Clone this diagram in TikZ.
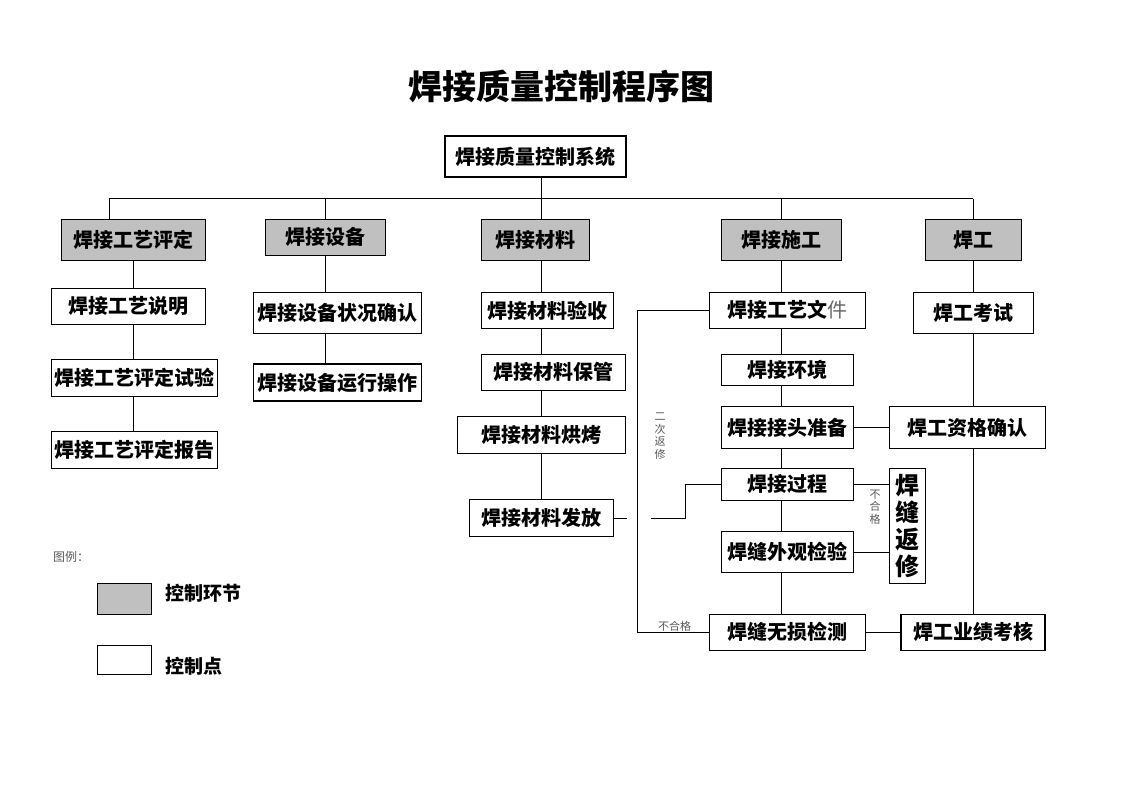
\documentclass[tikz,border=0pt]{standalone}
\usepackage{fontspec}
\setmainfont{Noto Sans CJK SC}
\definecolor{ctrlgray}{RGB}{192,192,192}
\newcommand\boxfont{\fontsize{20}{24}\selectfont\bfseries}
\newcommand\notefont{\fontsize{11}{12.5}\selectfont}
\begin{document}
\begin{tikzpicture}
[x=1pt,y=-1pt,
  lineDecorate/.style={-,line width=1pt},
  linkDecorate/.style={shape=rectangle,inner sep=0pt,draw,line width=1.2pt,fill=ctrlgray,font=\boxfont},
  pointDecorate/.style={shape=rectangle,inner sep=0pt,draw,line width=1.2pt,fill=white,font=\boxfont},
  noteDecorate/.style={inner sep=0pt,text=black!65,font=\notefont,align=center}]
\useasboundingbox (0,0) rectangle (1122,793);
%% title
\node (title) at (561,86) {\fontsize{34}{40}\selectfont\bfseries 焊接质量控制程序图};
%% control links (grey boxes)
\foreach \nodename/\x/\y/\w/\h/\txt in {
  gypd/133.7/240/144/41/焊接工艺评定,
  sb/325.3/237.2/120/36/焊接设备,
  cl/535.3/240/108/41/焊接材料,
  sg/781.5/240/120/41/焊接施工,
  hg/973.7/240/96/41/焊工}
{
  \node[linkDecorate,minimum width=\w pt,minimum height=\h pt] (\nodename) at (\x,\y) {\txt};
}
%% control points (white boxes)
\foreach \nodename/\x/\y/\w/\h/\txt in {
  sys/535.5/156.5/181/41/焊接质量控制系统,
  gysm/128.7/306.3/154/36/焊接工艺说明,
  pdsy/134.5/378.3/166/37/焊接工艺评定试验,
  pdbg/134.5/449.8/166/37/焊接工艺评定报告,
  sbqr/337.5/312.8/168/41/焊接设备状况确认,
  sbyx/337.5/382.5/168/37/焊接设备运行操作,
  clys/547.5/310.5/132/36/焊接材料验收,
  clbg/553.5/372.3/144/36/焊接材料保管,
  clhk/541.5/435/168/37/焊接材料烘烤,
  clff/541.5/518.3/144/37/焊接材料发放,
  gywj/787.3/310.3/156/36/{焊接工艺文{\mdseries\color{black!60}件}},
  hj/787.5/369.8/132/31/焊接环境,
  jt/787.5/427.5/132/42/焊接接头准备,
  gc/787.5/484.2/132/32/焊接过程,
  wg/787.5/552/132/41/焊缝外观检验,
  ws/787.3/632.2/156/36/焊缝无损检测,
  kh/973.3/312.8/120/41/焊工考试,
  zgqr/967.3/427.5/156/42/焊工资格确认,
  yj/973/632.2/144/36/焊工业绩考核}
{
  \node[pointDecorate,minimum width=\w pt,minimum height=\h pt] (\nodename) at (\x,\y) {\txt};
}
\node[pointDecorate,minimum width=36pt,minimum height=115pt,align=center,
  font=\fontsize{24}{27}\selectfont\bfseries] (fx) at (907.3,525.8) {焊\\缝\\返\\修};
%% column lines and bus
\coordinate (busL) at (109.3,198.7);
\coordinate (busR) at (973.3,198.7);
\coordinate (c1) at (133.3,0);
\coordinate (c2) at (325.3,0);
\coordinate (c3) at (541.7,0);
\coordinate (c4) at (781.7,0);
\coordinate (c5) at (973.3,0);
\draw[lineDecorate] (busL) -- (busR);
\path
\foreach \endnode/\col in {gypd/busL, sb/c2, sg/c4, hg/c5}
{
  (\col |- busL) edge[lineDecorate] (\endnode.north -| \col)
}
\foreach \startnode/\endnode/\col in {
  gypd/gysm/c1, gysm/pdsy/c1, pdsy/pdbg/c1,
  sb/sbqr/c2, sbqr/sbyx/c2,
  sys/cl/c3, cl/clys/c3, clys/clbg/c3, clbg/clhk/c3, clhk/clff/c3,
  sg/gywj/c4, gywj/hj/c4, hj/jt/c4, jt/gc/c4, gc/wg/c4, wg/ws/c4,
  hg/kh/c5, kh/zgqr/c5, zgqr/yj/c5}
{
  (\startnode.south -| \col) edge[lineDecorate] (\endnode.north -| \col)
}
(jt) edge[lineDecorate] (zgqr)
(ws) edge[lineDecorate] (yj)
(gc.east) edge[lineDecorate] (gc.east -| fx.west)
(wg.east) edge[lineDecorate] (wg.east -| fx.west);
%% repair loop and material feed
\coordinate (lp) at (637.3,0);
\coordinate (kx) at (685,0);
\coordinate (ffA) at ([xshift=13pt]clff.east);
\coordinate (ffB) at ([xshift=37pt]clff.east);
\draw[lineDecorate] (gywj.west) -- (gywj.west -| lp) |- (ws.west);
\draw[lineDecorate] (clff.east) -- (ffA);
\draw[lineDecorate] (ffB) -| (kx |- gc.west) -- (gc.west);
%% notes
\node[noteDecorate] (ecfx) at (660,436) {二\\次\\返\\修};
\node[noteDecorate] (bhg1) at (875,507) {不\\合\\格};
\node[noteDecorate] (bhg2) at (674.5,626.5) {不合格};
%% legend
\node[noteDecorate,anchor=west,font=\fontsize{12}{14}\selectfont] (lgTitle) at (53,556.7) {图例：};
\node[linkDecorate,minimum width=54pt,minimum height=31pt] (lgLink) at (124.5,598.8) {};
\node[pointDecorate,minimum width=54pt,minimum height=29pt] (lgPoint) at (124.5,659.8) {};
\node[anchor=west,inner sep=0pt,font=\fontsize{19}{22}\selectfont\bfseries] (lgLinkTxt) at (165,593.3) {控制环节};
\node[anchor=west,inner sep=0pt,font=\fontsize{19}{22}\selectfont\bfseries] (lgPointTxt) at (165,666.7) {控制点};
\end{tikzpicture}
\end{document}
